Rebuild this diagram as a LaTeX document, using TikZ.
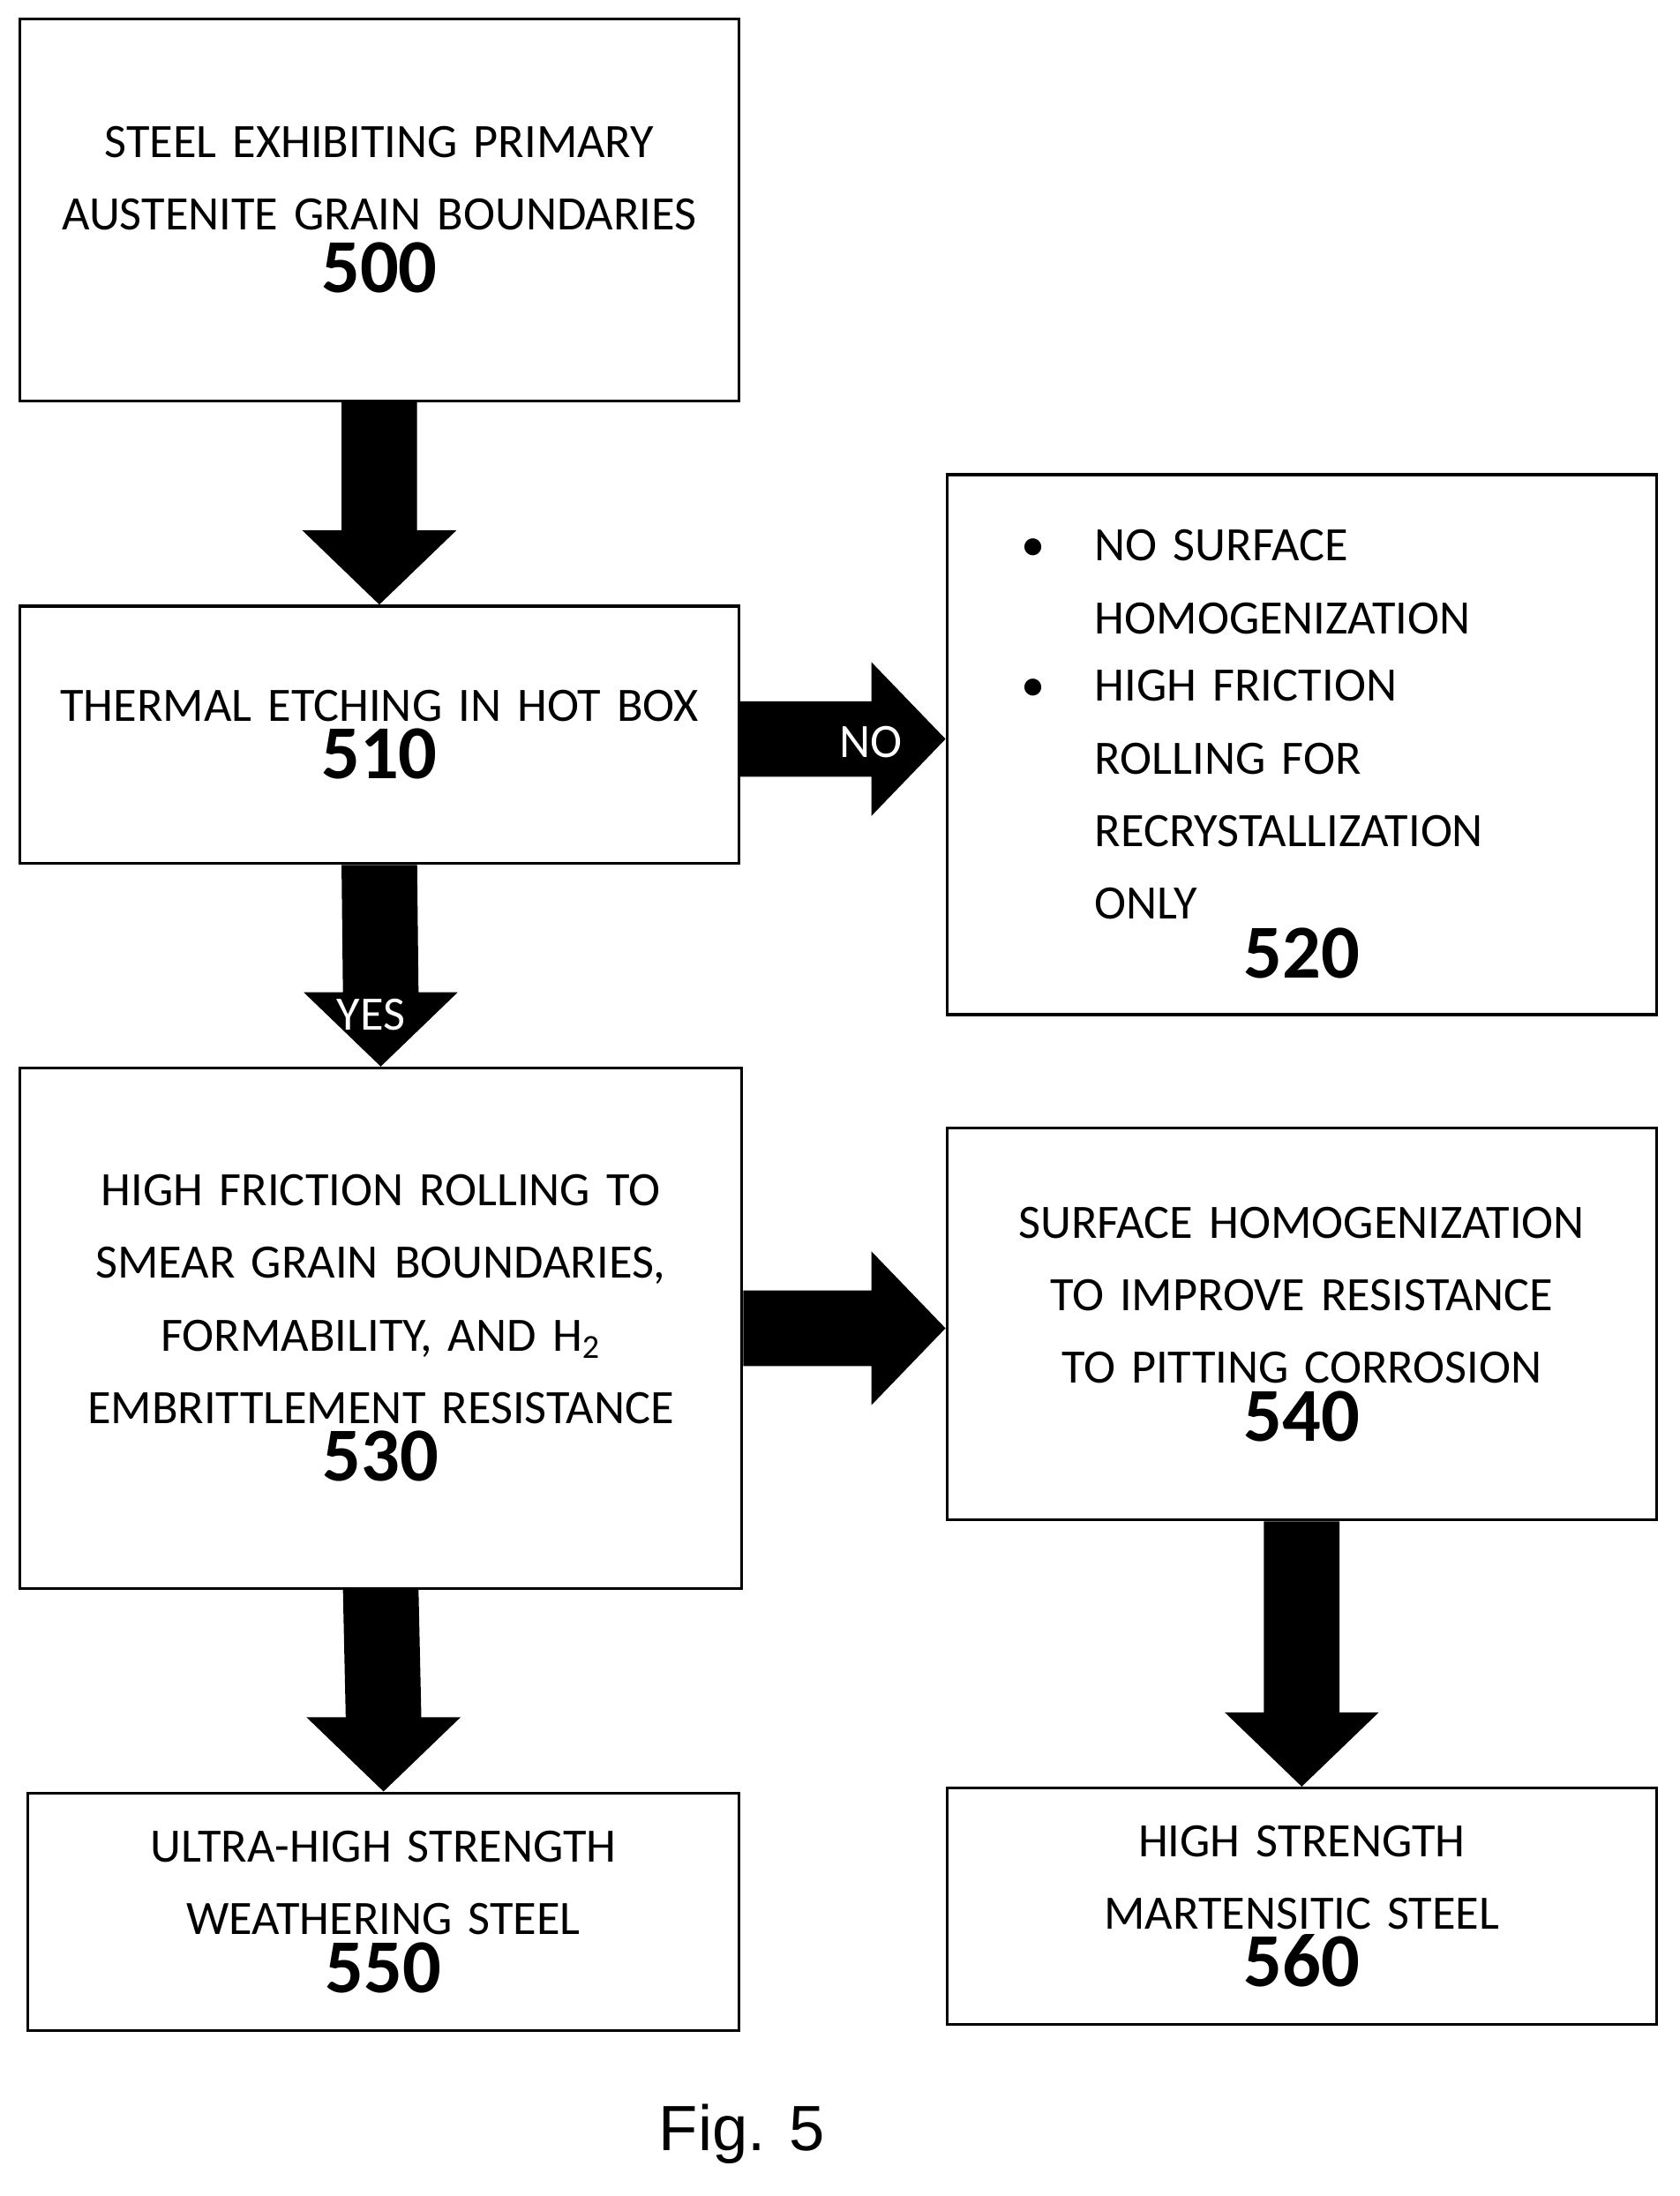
\documentclass[tikz,border=0pt]{standalone}
\usepackage{fontspec}
\setmainfont{Carlito}
\newfontfamily\figfont{Liberation Sans}
\usetikzlibrary{calc}
\newcommand\numb[1]{{\fontsize{31}{34}\selectfont\bfseries #1}}
% fat block arrow, downward, from node #1 to node #2
\newcommand\fatdown[2]{%
  \fill ($(#1.south)+(-27,0)$) -- ($(#1.south)+(27,0)$) -- ($(#2.north)+(27,-53)$)
    -- ($(#2.north)+(55,-53)$) -- (#2.north) -- ($(#2.north)+(-55,-53)$)
    -- ($(#2.north)+(-27,-53)$) -- cycle;}
% fat block arrow, rightward, at height #3
\newcommand\fatright[3]{%
  \fill ($(#1.east|-0,#3)+(0,-27)$) -- ($(#1.east|-0,#3)+(0,27)$) -- ($(#2.west|-0,#3)+(-53,27)$)
    -- ($(#2.west|-0,#3)+(-53,55)$) -- (#2.west|-0,#3) -- ($(#2.west|-0,#3)+(-53,-55)$)
    -- ($(#2.west|-0,#3)+(-53,-27)$) -- cycle;}
\begin{document}
\begin{tikzpicture}[x=0.02cm,y=-0.02cm,
  box/.style={draw,line width=1.2pt,align=center,inner sep=0pt,
    font=\fontsize{19.5}{29.5}\selectfont,
    execute at begin node={\hyphenpenalty=10000\exhyphenpenalty=10000}},
  lbl/.style={text=white,font=\fontsize{19.5}{24}\selectfont}]
\useasboundingbox (0,0) rectangle (1200,1569);
\node[box,minimum width=10.28cm,minimum height=5.46cm,text width=9.8cm] (b500) at (271,150)
  {STEEL EXHIBITING PRIMARY AUSTENITE GRAIN BOUNDARIES\\[-4pt]\numb{500}\\[14pt]};
\node[box,minimum width=10.28cm,minimum height=3.68cm,text width=9.8cm] (b510) at (271,525)
  {THERMAL ETCHING IN HOT BOX\\[-6pt]\numb{510}};
\node[box,minimum width=10.14cm,minimum height=7.72cm,text width=9.6cm] (b520) at (930,532)
  {\begin{tabular}{@{}c@{\hspace{20pt}}p{6.96cm}@{}}
   \textbullet & NO SURFACE HOMOGENIZATION\\[-2pt]
   \textbullet & HIGH FRICTION ROLLING FOR RECRYSTALLIZATION ONLY
   \end{tabular}\\[-6pt]\numb{520}};
\node[box,minimum width=10.32cm,minimum height=7.44cm,text width=9.8cm] (b530) at (272,949)
  {HIGH FRICTION ROLLING TO SMEAR GRAIN BOUNDARIES, FORMABILITY, AND H\textsubscript{2} EMBRITTLEMENT RESISTANCE\\[-6pt]\numb{530}};
\node[box,minimum width=10.14cm,minimum height=5.6cm,text width=9.6cm] (b540) at (930,946)
  {SURFACE HOMOGENIZATION TO IMPROVE RESISTANCE TO PITTING CORROSION\\[-6pt]\numb{540}};
\node[box,minimum width=10.16cm,minimum height=3.4cm,text width=9.6cm] (b550) at (274,1366)
  {ULTRA-HIGH STRENGTH WEATHERING STEEL\\[-6pt]\numb{550}};
\node[box,minimum width=10.14cm,minimum height=3.38cm,text width=9.6cm] (b560) at (930,1362)
  {HIGH STRENGTH MARTENSITIC STEEL\\[-6pt]\numb{560}};
\node[font=\figfont\fontsize{26}{30}\selectfont] (fig) at (530,1525) {Fig. 5};
\fatdown{b500}{b510}
\fatdown{b510}{b530}
\fatdown{b530}{b550}
\fatdown{b540}{b560}
\fatright{b510}{b520}{528}
\fatright{b530}{b540}{949}
\node[lbl] (yes) at (265,725) {YES};
\node[lbl] (no) at (622,530) {NO};
\end{tikzpicture}
\end{document}
